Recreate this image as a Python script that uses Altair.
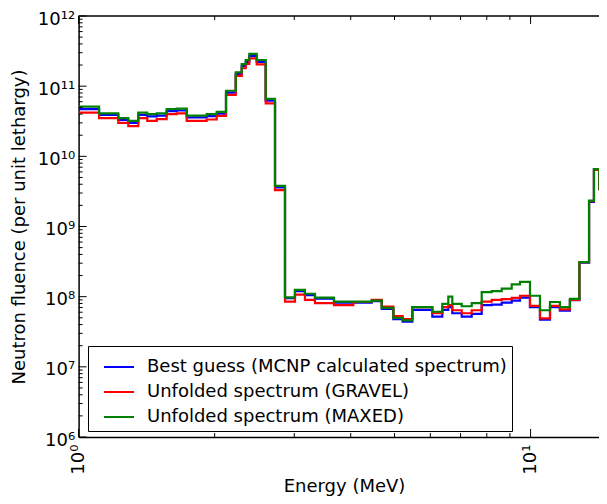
import altair as alt
import pandas as pd

# Bin edges (MeV)
edges = [1.0, 1.11, 1.224, 1.288, 1.355, 1.419, 1.489, 1.566, 1.648, 1.735,
         1.92, 2.021, 2.119, 2.227, 2.296, 2.343, 2.386, 2.478, 2.594, 2.72,
         2.862, 3.011, 3.168, 3.334, 3.673, 4.053, 4.452, 4.685, 4.97, 5.212,
         5.474, 6.062, 6.378, 6.576, 6.711, 7.041, 7.409, 7.796, 8.203, 8.632,
         9.083, 9.475, 9.969, 10.49, 11.04, 11.61, 12.22, 12.82, 13.47, 13.81,
         14.19, 14.48, 15.0]

best_guess = [4.7e10, 3.9e10, 3.3e10, 3.0e10, 3.9e10, 3.7e10, 3.8e10, 4.4e10, 4.5e10, 3.6e10,
              3.75e10, 4.05e10, 8.1e10, 1.5e11, 1.95e11, 2.22e11, 2.7e11, 2.22e11, 6.2e10, 3.6e9,
              9.5e7, 1.2e8, 1.05e8, 9.4e7, 8.2e7, 8.2e7, 8.6e7, 6.7e7, 4.8e7, 4.4e7,
              6.5e7, 5.2e7, 6.5e7, 7.1e7, 5.8e7, 5.2e7, 5.7e7, 7.6e7, 7.7e7, 8.2e7,
              8.8e7, 9.7e7, 7.1e7, 4.7e7, 7.1e7, 6.3e7, 8.9e7, 3.05e8, 2.25e9, 6.5e9,
              3.4e9, 2.3e8]

gravel = [4.2e10, 3.5e10, 3.0e10, 2.7e10, 3.5e10, 3.2e10, 3.4e10, 4.0e10, 4.1e10, 3.2e10,
          3.35e10, 3.76e10, 7.5e10, 1.4e11, 1.8e11, 2.07e11, 2.49e11, 2.05e11, 5.7e10, 3.3e9,
          8.5e7, 1.07e8, 9.0e7, 8.1e7, 7.6e7, 8.4e7, 9.0e7, 7.2e7, 5.3e7, 4.8e7,
          7.1e7, 5.8e7, 7.1e7, 7.6e7, 6.4e7, 5.8e7, 6.4e7, 8.5e7, 9.0e7, 9.2e7,
          9.6e7, 1.03e8, 7.4e7, 4.9e7, 7.4e7, 6.6e7, 9.0e7, 3.1e8, 2.3e9, 6.4e9,
          3.4e9, 2.4e8]

maxed = [5.1e10, 4.1e10, 3.5e10, 3.2e10, 4.2e10, 4.0e10, 4.1e10, 4.7e10, 4.8e10, 3.8e10,
         4.0e10, 4.3e10, 8.6e10, 1.58e11, 2.07e11, 2.36e11, 2.88e11, 2.36e11, 6.6e10, 3.8e9,
         9.8e7, 1.25e8, 1.1e8, 9.7e7, 8.5e7, 8.5e7, 8.8e7, 6.9e7, 5.0e7, 4.6e7,
         7.1e7, 6.1e7, 7.9e7, 1.0e8, 7.9e7, 7.3e7, 8.1e7, 1.16e8, 1.2e8, 1.3e8,
         1.5e8, 1.62e8, 1.03e8, 6.4e7, 8.4e7, 7.1e7, 9.3e7, 3.1e8, 2.34e9, 6.6e9,
         3.5e9, 2.3e8]

names = ["Best guess (MCNP calculated spectrum)",
         "Unfolded spectrum (GRAVEL)",
         "Unfolded spectrum (MAXED)"]
colors = ["#0000ff", "#ff0000", "#008000"]

x_major = [1, 10]
x_minor = [2, 3, 4, 5, 6, 7, 8, 9]
y_major = [1e6, 1e7, 1e8, 1e9, 1e10, 1e11, 1e12]
y_minor = [k * 10.0 ** e for e in range(6, 12) for k in range(2, 10)]

rows = []
for name, vals in zip(names, [best_guess, gravel, maxed]):
    for i, v in enumerate(vals):
        rows.append({"series": name, "E": edges[i], "v": v})
    rows.append({"series": name, "E": edges[-1], "v": vals[-1]})
df = pd.DataFrame(rows)

W = 520.4
H = 421
FONT = "DejaVu Sans"

x_scale = alt.Scale(type="log", domain=[1, 14.17], nice=False)
y_scale = alt.Scale(type="log", domain=[1e6, 1e12], nice=False)

sup = "['⁰','¹','²','³','⁴','⁵','⁶','⁷','⁸','⁹','¹⁰','¹¹','¹²']"
x_axis = alt.Axis(values=x_major, labelExpr="'10' + " + sup + "[round(log(datum.value)/LN10)]",
                  labelAngle=270, labelFontSize=18, labelFont=FONT, tickSize=0, labelPadding=7,
                  labelFlush=False, labelOverlap=False, domainColor="black", domainWidth=1.5,
                  grid=False, title="Energy (MeV)", titleFontSize=18, titleFont=FONT,
                  titleFontWeight="normal", titleY=40, titleX=265.4,
                  labelColor="black", titleColor="black")
y_axis = alt.Axis(values=y_major, labelExpr="'10' + " + sup + "[round(log(datum.value)/LN10)]",
                  labelFontSize=18, labelFont=FONT, tickSize=0, labelPadding=4, labelOffset=3,
                  labelFlush=False, labelOverlap=False, domainColor="black", domainWidth=1.5,
                  grid=False, title="Neutron fluence (per unit lethargy)", titleFontSize=18,
                  titleFont=FONT, titleFontWeight="normal", titleX=-50.5,
                  labelColor="black", titleColor="black")

color_enc = alt.Color("series:N", scale=alt.Scale(domain=names, range=colors),
                      legend=alt.Legend(orient="none", legendX=9.4, legendY=330, title=None,
                                        labelFontSize=18, labelFont=FONT, labelColor="black",
                                        symbolType="stroke", symbolSize=900, symbolStrokeWidth=2,
                                        strokeColor="black", fillColor="white", padding=5,
                                        rowPadding=-1.5, labelOffset=12, symbolOffset=10,
                                        labelLimit=0, cornerRadius=0))


def line_layer(name):
    return alt.Chart(df).transform_filter(alt.datum.series == name).mark_line(
        interpolate="step-after", strokeWidth=2.2, clip=True
    ).encode(
        x=alt.X("E:Q", scale=x_scale, axis=x_axis),
        y=alt.Y("v:Q", scale=y_scale, axis=y_axis),
        color=color_enc,
    )


def xticks(vals, length, top):
    d = pd.DataFrame({"E": vals})
    if top:
        ya, yb = alt.value(0), alt.value(length)
    else:
        ya, yb = alt.value(H), alt.value(H - length)
    return alt.Chart(d).mark_rule(color="black", strokeWidth=1).encode(
        x=alt.X("E:Q", scale=x_scale, axis=x_axis), y=ya, y2=yb)


def yticks(vals, length):
    d = pd.DataFrame({"v": vals})
    return alt.Chart(d).mark_rule(color="black", strokeWidth=1).encode(
        y=alt.Y("v:Q", scale=y_scale, axis=y_axis), x=alt.value(0), x2=alt.value(length))


top_line = alt.Chart(pd.DataFrame({"a": [0]})).mark_rule(color="black", strokeWidth=1.5).encode(
    x=alt.value(0), x2=alt.value(W), y=alt.value(0))

chart = alt.layer(
    line_layer(names[0]), line_layer(names[1]), line_layer(names[2]),
    xticks(x_major, 8, False), xticks(x_minor, 4, False),
    xticks(x_major, 8, True), xticks(x_minor, 4, True),
    yticks(y_major, 8), yticks(y_minor, 4),
    top_line,
).properties(
    width=W, height=H,
    autosize=alt.AutoSizeParams(type="none"),
    padding={"left": 70.6, "top": 8, "right": 0, "bottom": 59},
    background="white",
).configure_view(stroke=None)

chart.save("out.html", embed_options={"renderer": "svg", "actions": False})
